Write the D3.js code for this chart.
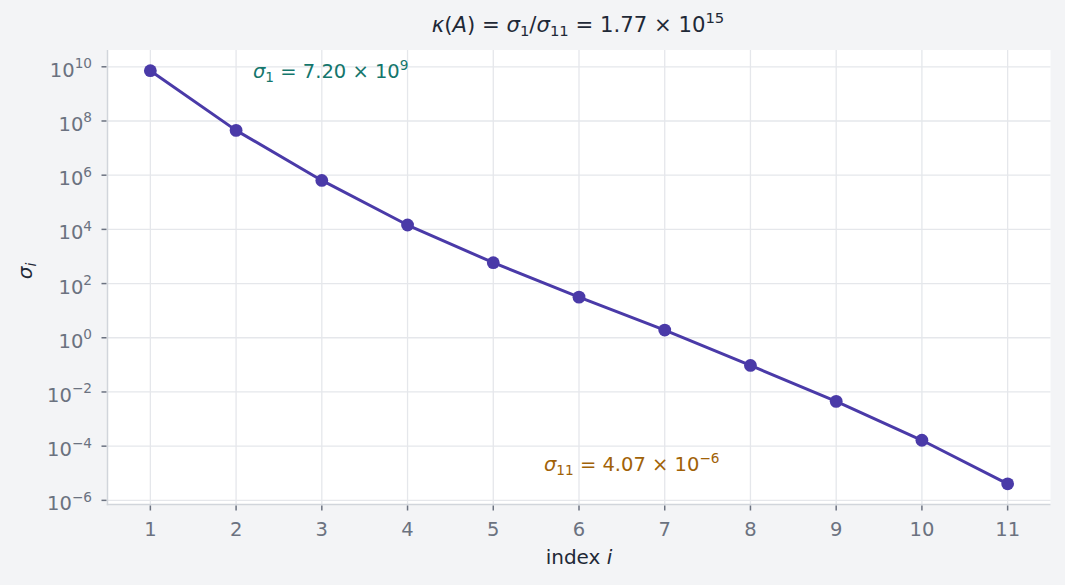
<!DOCTYPE html>
<html><head><meta charset="utf-8">
<script src="https://cdn.jsdelivr.net/npm/d3@7"></script>
<style>
html,body{margin:0;padding:0;background:#f3f4f6;}
svg{display:block;font-family:"DejaVu Sans",sans-serif;}
</style></head>
<body>
<svg id="c" width="1065" height="585"></svg>
<script>
const indices = [1,2,3,4,5,6,7,8,9,10,11];
const sigma = [7.20e9, 4.5e7, 6.4e5, 1.45e4, 590, 31.6, 1.92, 0.095, 0.0045, 1.65e-4, 4.07e-6];
const yTickExps = [-6,-4,-2,0,2,4,6,8,10];
const xTicks = [1,2,3,4,5,6,7,8,9,10,11];

const svg = d3.select("#c");
const W = 1065, H = 585;
const pLeft = 107.5, pRight = 1050.5, pTop = 50, pBottom = 504.5;

const lmin = Math.log10(d3.min(sigma)), lmax = Math.log10(d3.max(sigma));
const pad = (lmax - lmin) * 0.05;
const x = d3.scaleLinear().domain([0.5, 11.5]).range([pLeft, pRight]);
const y = d3.scaleLog().domain([Math.pow(10, lmin - pad), Math.pow(10, lmax + pad)]).range([pBottom, pTop]);

svg.append("rect").attr("width", W).attr("height", H).attr("fill", "#f3f4f6");
svg.append("rect").attr("x", pLeft).attr("y", pTop).attr("width", pRight - pLeft).attr("height", pBottom - pTop).attr("fill", "#ffffff");

// grid
const g = svg.append("g");
g.selectAll("line.hg").data(yTickExps).join("line")
  .attr("x1", pLeft).attr("x2", pRight)
  .attr("y1", d => y(Math.pow(10, d))).attr("y2", d => y(Math.pow(10, d)))
  .attr("stroke", "#e5e7eb").attr("stroke-width", 1.3);
g.selectAll("line.vg").data(xTicks).join("line")
  .attr("y1", pTop).attr("y2", pBottom)
  .attr("x1", d => x(d)).attr("x2", d => x(d))
  .attr("stroke", "#e5e7eb").attr("stroke-width", 1.3);

// spines
svg.append("line").attr("x1", pLeft).attr("x2", pLeft).attr("y1", pTop).attr("y2", pBottom + 0.75)
  .attr("stroke", "#d1d5db").attr("stroke-width", 1.5);
svg.append("line").attr("x1", pLeft - 0.75).attr("x2", pRight).attr("y1", pBottom).attr("y2", pBottom)
  .attr("stroke", "#d1d5db").attr("stroke-width", 1.5);

// ticks
const tickCol = "#6b7280";
svg.selectAll("line.yt").data(yTickExps).join("line")
  .attr("x1", pLeft - 6).attr("x2", pLeft - 1)
  .attr("y1", d => y(Math.pow(10, d))).attr("y2", d => y(Math.pow(10, d)))
  .attr("stroke", tickCol).attr("stroke-width", 1.5);
svg.selectAll("line.xt").data(xTicks).join("line")
  .attr("y1", pBottom + 1).attr("y2", pBottom + 6)
  .attr("x1", d => x(d)).attr("x2", d => x(d))
  .attr("stroke", tickCol).attr("stroke-width", 1.5);

// tick labels
const TF = 19.5;
svg.selectAll("text.xl").data(xTicks).join("text")
  .attr("x", d => x(d)).attr("y", 536).attr("text-anchor", "middle")
  .attr("font-size", TF).attr("fill", tickCol).text(d => d);

const yl = svg.selectAll("text.yl").data(yTickExps).join("text")
  .attr("x", 92).attr("y", d => y(Math.pow(10, d)) + 10).attr("text-anchor", "end")
  .attr("font-size", TF).attr("fill", tickCol);
yl.append("tspan").text("10");
yl.append("tspan").attr("dy", -8.5).attr("font-size", TF * 0.7).text(d => (d < 0 ? "\u2212" : "") + Math.abs(d));

// rich text helper
function rich(sel, parts, size) {
  let shift = 0;
  parts.forEach(p => {
    const ts = sel.append("tspan").text(p.t);
    let target = 0, fs = size;
    if (p.s === "sub") { target = size * 0.2; fs = size * 0.7; }
    if (p.s === "sup") { target = -size * 0.43; fs = size * 0.7; }
    if (p.i) ts.attr("font-style", "italic");
    ts.attr("font-size", fs);
    if (target !== shift) { ts.attr("dy", target - shift); shift = target; }
  });
}

// line + points
const line = d3.line().x((d, i) => x(indices[i])).y(d => y(d));
const col = "#4a3aa8";
svg.append("path").datum(sigma).attr("d", line).attr("fill", "none")
  .attr("stroke", col).attr("stroke-width", 3).attr("stroke-linejoin", "round");
svg.selectAll("circle").data(sigma).join("circle")
  .attr("cx", (d, i) => x(indices[i])).attr("cy", d => y(d)).attr("r", 6.4).attr("fill", col);

// title
const tt = svg.append("text").attr("x", 578).attr("y", 32).attr("text-anchor", "middle")
  .attr("font-size", 21.2).attr("fill", "#1f2937");
rich(tt, [{t:"\u03BA", i:1},{t:"("},{t:"A", i:1},{t:") = "},{t:"\u03C3", i:1},{t:"1", s:"sub"},{t:"/"},
  {t:"\u03C3", i:1},{t:"11", s:"sub"},{t:" = 1.77 \u00D7 10"},{t:"15", s:"sup"}], 21.2);

// annotations
const a1 = svg.append("text").attr("x", 253).attr("y", 78).attr("font-size", 19.5).attr("fill", "#14766c");
rich(a1, [{t:"\u03C3", i:1},{t:"1", s:"sub"},{t:" = 7.20 \u00D7 10"},{t:"9", s:"sup"}], 19.5);
const a2 = svg.append("text").attr("x", 544).attr("y", 471).attr("font-size", 19.5).attr("fill", "#a16207");
rich(a2, [{t:"\u03C3", i:1},{t:"11", s:"sub"},{t:" = 4.07 \u00D7 10"},{t:"\u22126", s:"sup"}], 19.5);

// axis labels
const xl = svg.append("text").attr("x", 579).attr("y", 564).attr("text-anchor", "middle")
  .attr("font-size", 20).attr("fill", "#1f2937");
rich(xl, [{t:"index "},{t:"i", i:1}], 20);
const ylab = svg.append("text").attr("transform", "translate(32,271) rotate(-90)").attr("text-anchor", "middle")
  .attr("font-size", 20).attr("fill", "#1f2937");
rich(ylab, [{t:"\u03C3", i:1},{t:"i", i:1, s:"sub"}], 20);
</script>
</body></html>
